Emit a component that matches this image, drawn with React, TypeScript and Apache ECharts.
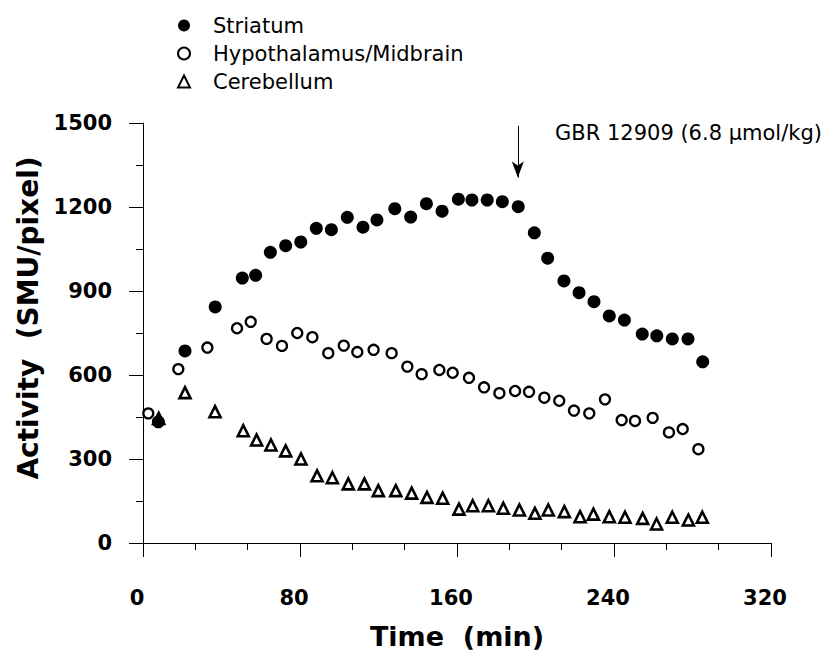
import React, { useEffect, useRef } from "react";
import * as echarts from "echarts";

// ---- data ----
const striatumTime = [7.8, 21.4, 36.8, 50.6, 57.4, 64.9, 72.7, 80.4, 88.3, 96, 104.1, 112.1, 119.2, 128.3, 136.4, 144.4, 152.4, 160.7, 167.6, 175.4, 183.1, 191.2, 199.4, 206.2, 214.5, 222.2, 229.8, 237.6, 245.3, 254.4, 261.8, 269.7, 277.7, 285.2];
const striatumValue = [433, 686, 843, 946, 956, 1038, 1062, 1075, 1124, 1119, 1163, 1128, 1154, 1194, 1164, 1212, 1185, 1228, 1225, 1225, 1219, 1201, 1108, 1017, 936, 894, 862, 811, 796, 746, 740, 729, 729, 647];

const hypoTime = [2.7, 18, 32.8, 47.9, 54.9, 63, 70.8, 78.6, 86.3, 94.4, 102.3, 109.2, 117.5, 126.7, 134.7, 142, 151, 157.8, 166.1, 173.8, 181.6, 189.6, 196.7, 204.5, 212.1, 219.6, 227.4, 235.4, 243.9, 250.7, 259.7, 268, 275, 283];
const hypoValue = [463, 621, 698, 767, 790, 729, 704, 750, 735, 678, 705, 682, 690, 678, 630, 603, 618, 608, 590, 556, 535, 543, 540, 519, 508, 473, 463, 513, 439, 436, 447, 395, 407, 335];

const cerebTime = [8, 21.4, 36.7, 51.1, 57.9, 65.2, 72.7, 80.5, 88.7, 96.5, 104.6, 112.8, 119.9, 128.8, 136.9, 144.7, 152.7, 161, 168, 176, 183.6, 191.8, 199.7, 206.5, 214.7, 222.7, 229.5, 237.6, 245.6, 254.6, 261.7, 269.7, 277.9, 285];
const cerebValue = [445, 537, 469, 401, 368, 350, 329, 300, 240, 233, 211, 211, 187, 187, 178, 163, 160, 121, 133, 133, 124, 118, 106, 118, 112, 94, 103, 94, 92, 88, 68, 92, 82, 92];

const seriesNames = ["Striatum", "Hypothalamus/Midbrain", "Cerebellum"];
const xTicks = { min: 0, max: 320, interval: 80 };
const yTicks = { min: 0, max: 1500, interval: 300 };
const doseTime = 191;
const arrowFrom = 1490;
const arrowTo = 1305;
const doseLabel = "GBR 12909 (6.8 \u00b5mol/kg)";

const zip = (xs: number[], ys: number[]) => xs.map((x, i) => [x, ys[i]]);

const BOLD = "DejaVu Sans";

export default function App() {
  const ref = useRef<HTMLDivElement>(null);
  useEffect(() => {
    if (!ref.current) return;
    const chart = echarts.init(ref.current, null, { renderer: "svg" });
    const axisCommon = {
      axisLine: { show: true, lineStyle: { color: "#000", width: 1 } },
      axisTick: { show: true, inside: false, length: 14, lineStyle: { color: "#000", width: 1 } },
      minorTick: { show: true, length: 7, lineStyle: { color: "#000", width: 1 } },
      splitLine: { show: false },
      minorSplitLine: { show: false },
    };
    chart.setOption({
      animation: false,
      backgroundColor: "#fff",
      grid: { left: 143, right: 65, top: 123, bottom: 112, containLabel: false },
      legend: {
        orient: "vertical",
        left: 172,
        top: 10,
        itemWidth: 12,
        itemHeight: 12,
        itemGap: 7,
        data: seriesNames,
        textStyle: { fontFamily: "DejaVu Sans", fontSize: 21, color: "#000", padding: [0, 0, 0, 18] },
      },
      xAxis: {
        type: "value",
        min: xTicks.min,
        max: xTicks.max,
        interval: xTicks.interval,
        ...axisCommon,
        minorTick: { ...axisCommon.minorTick, splitNumber: 3 },
        axisLabel: {
          margin: 44,
          fontFamily: BOLD,
          fontWeight: "bold",
          fontSize: 21,
          color: "#000",
          padding: [0, 12, 0, 0],
          formatter: (v: number) => String(v),
        },
        name: "Time  (min)",
        nameLocation: "middle",
        nameGap: 80,
        nameTextStyle: { fontFamily: BOLD, fontWeight: "bold", fontSize: 27, color: "#000" },
      },
      yAxis: {
        type: "value",
        min: yTicks.min,
        max: yTicks.max,
        interval: yTicks.interval,
        ...axisCommon,
        minorTick: { ...axisCommon.minorTick, splitNumber: 2 },
        axisLabel: {
          margin: 31,
          fontFamily: BOLD,
          fontWeight: "bold",
          fontSize: 21,
          color: "#000",
          formatter: (v: number) => String(v),
        },
        name: "Activity  (SMU/pixel)",
        nameLocation: "middle",
        nameGap: 88,
        nameTextStyle: { fontFamily: BOLD, fontWeight: "bold", fontSize: 28, color: "#000", padding: [0, 0, 0, 30] },
      },
      graphic: [
        {
          type: "text",
          left: 555,
          top: 122,
          style: { text: doseLabel, fontFamily: "DejaVu Sans", fontSize: 21, fill: "#000" },
        },
      ],
      series: [
        {
          name: seriesNames[2],
          type: "scatter",
          data: zip(cerebTime, cerebValue),
          symbol: "triangle",
          symbolSize: 11,
          itemStyle: { color: "#fff", borderColor: "#000", borderWidth: 2.6, opacity: 1 },
          z: 2,
        },
        {
          name: seriesNames[1],
          type: "scatter",
          data: zip(hypoTime, hypoValue),
          symbol: "circle",
          symbolSize: 10,
          itemStyle: { color: "#fff", borderColor: "#000", borderWidth: 2.3, opacity: 1 },
          z: 3,
        },
        {
          name: seriesNames[0],
          type: "scatter",
          data: zip(striatumTime, striatumValue),
          symbol: "circle",
          symbolSize: 13,
          itemStyle: { color: "#000", opacity: 1 },
          z: 4,
          markLine: {
            silent: true,
            symbol: ["none", "arrow"],
            symbolSize: [9, 16],
            label: { show: false },
            lineStyle: { color: "#000", width: 1, type: "solid", opacity: 1 },
            data: [[{ coord: [doseTime, arrowFrom] }, { coord: [doseTime, arrowTo] }]],
          },
        },
      ],
    });
    return () => chart.dispose();
  }, []);
  return (
    <div
      ref={ref}
      style={{ position: "absolute", left: 0, top: 0, width: 836, height: 655, background: "#fff" }}
    />
  );
}
